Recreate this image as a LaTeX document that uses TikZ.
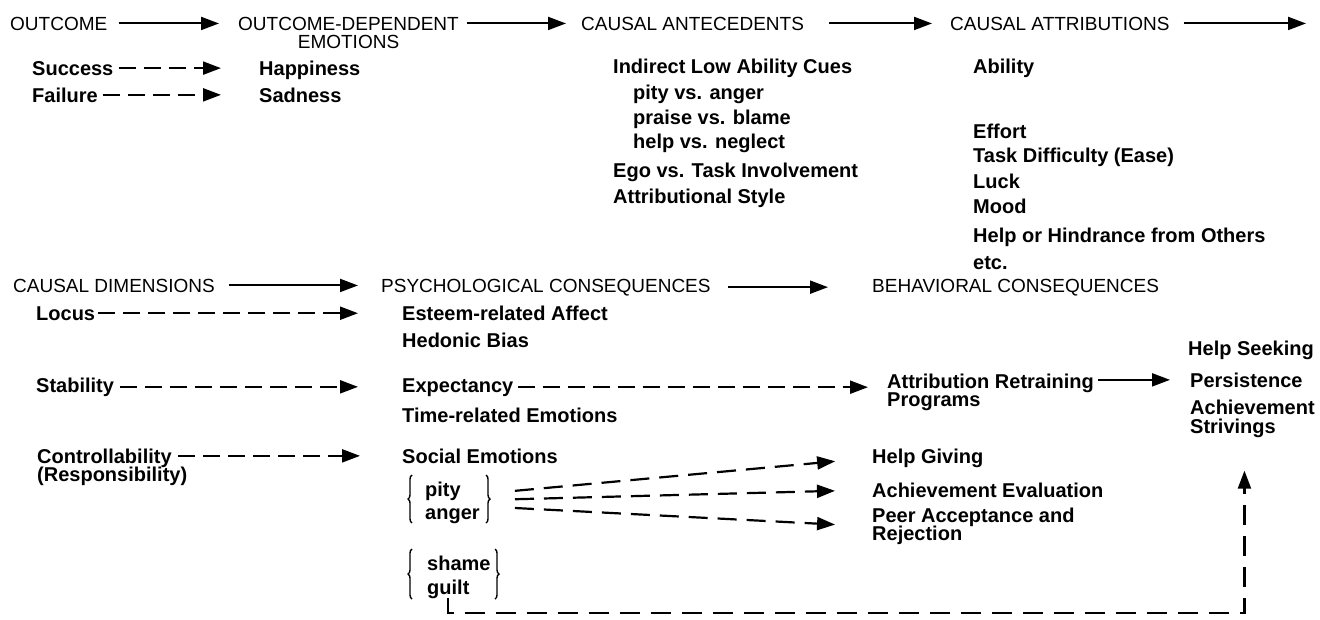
\documentclass[tikz,border=0pt]{standalone}
\usepackage{fontspec}
\setmainfont{Liberation Sans}
\usetikzlibrary{arrows.meta,decorations.pathreplacing}
\newcommand\tightlead{\lineskiplimit=-30pt\relax}
\begin{document}
\begin{tikzpicture}[x=1pt,y=-1pt,
  hd/.style={anchor=base west,inner sep=0pt,font=\fontsize{19}{23}\selectfont},
  itm/.style={anchor=base west,inner sep=0pt,font=\bfseries\fontsize{20}{23}\selectfont},
  itmm/.style={anchor=north west,inner sep=0pt,align=left,
    font=\bfseries\fontsize{20}{18.5}\selectfont\tightlead},
  conn/.style={line width=2pt,-{Triangle[length=18pt,width=13pt]}},
  dconn/.style={conn,line width=2.2pt,dash pattern=on 17pt off 8pt},
  pconn/.style={conn,line width=2.2pt,dash pattern=on 19pt off 10pt},
  fconn/.style={conn,line width=2.2pt,dash pattern=on 20pt off 11pt},
  brc/.style={line width=1.4pt,decorate,decoration={brace,amplitude=4pt}},
]
\fill[white] (0,0) rectangle (1320,619);
\useasboundingbox (0,0) rectangle (1320,619);

% ---------- row 1 headings ----------
\node[hd] (outcome) at (10,30) {OUTCOME};
\node[hd] (oded) at (238,30) {OUTCOME-DEPENDENT};
\path (oded.base) ++(0,18) node[hd,anchor=base] (emo) {EMOTIONS};
\node[hd] (ante) at (581,30) {CAUSAL ANTECEDENTS};
\node[hd] (attr) at (950,30) {CAUSAL ATTRIBUTIONS};
\coordinate (attrend) at (1306,23);

\draw[conn,shorten <=11pt,shorten >=19pt] (outcome.east) -- (outcome.east -| oded.west);
\draw[conn,shorten <=8pt,shorten >=15pt] (oded.east) -- (oded.east -| ante.west);
\draw[conn,shorten <=25pt,shorten >=18pt] (ante.east) -- (ante.east -| attr.west);
\draw[conn,shorten <=14pt] (attr.east) -- (attr.east -| attrend);

% ---------- outcomes / emotions ----------
\node[itm] (succ) at (32,75) {Success};
\node[itm] (happy) at (259,75) {Happiness};
\node[itm] (fail) at (32,102) {Failure};
\node[itm] (sad) at (259,102) {Sadness};
\draw[dconn,shorten <=5pt,shorten >=38pt] (succ.east) -- (succ.east -| happy.west);
\draw[dconn,shorten <=5pt,shorten >=38pt] (fail.east) -- (fail.east -| sad.west);

% ---------- antecedents ----------
\node[itm] (ilac) at (613,73) {Indirect Low Ability Cues};
\node[itm] (pva) at (633,99) {pity vs. anger};
\node[itm] (pvb) at (633,124) {praise vs. blame};
\node[itm] (hvn) at (633,148) {help vs. neglect};
\node[itm] (ego) at (613,177) {Ego vs. Task Involvement};
\node[itm] (style) at (613,203) {Attributional Style};

% ---------- attributions ----------
\node[itm] (abil) at (973,73) {Ability};
\node[itm] (eff) at (973,138) {Effort};
\node[itm] (task) at (973,162) {Task Difficulty (Ease)};
\node[itm] (luck) at (973,188) {Luck};
\node[itm] (mood) at (973,213) {Mood};
\node[itm] (hind) at (973,242) {Help or Hindrance from Others};
\node[itm] (etc) at (973,269) {etc.};

% ---------- row 2 headings ----------
\node[hd] (dim) at (13,292) {CAUSAL DIMENSIONS};
\node[hd] (psy) at (381,292) {PSYCHOLOGICAL CONSEQUENCES};
\node[hd] (beh) at (872,292) {BEHAVIORAL CONSEQUENCES};
\draw[conn,shorten <=14pt,shorten >=23pt] (dim.east) -- (dim.east -| psy.west);
\draw[conn,shorten <=17pt,shorten >=44pt] (psy.east) -- (psy.east -| beh.west);

% ---------- dimensions ----------
\node[itm] (locus) at (36,320) {Locus};
\node[itm] (stab) at (36,392) {Stability};
\node[itmm] (ctrl) at (37,448.5) {Controllability\\(Responsibility)};

% ---------- psychological consequences ----------
\node[itm] (est) at (402,320) {Esteem-related Affect};
\node[itm] (hed) at (402,347) {Hedonic Bias};
\node[itm] (exp) at (402,392) {Expectancy};
\node[itm] (time) at (402,422) {Time-related Emotions};
\node[itm] (soc) at (402,463) {Social Emotions};
\node[itm] (pity) at (425,496) {pity};
\node[itm] (anger) at (425,519) {anger};
\node[itm] (shame) at (427,570) {shame};
\node[itm] (guilt) at (427,594) {guilt};
\draw[brc] (412,523) -- (412,475);
\draw[brc] (486,475) -- (486,523);
\draw[brc] (412,599) -- (412,549);
\draw[brc] (495,549) -- (495,599);
\coordinate (pamid) at (486,500);

\draw[dconn,shorten <=3pt,shorten >=44pt] (locus.east) -- (locus.east -| est.west);
\draw[dconn,shorten <=6pt,shorten >=44pt] (stab.east) -- (stab.east -| exp.west);
\draw[dconn,shorten <=141pt,shorten >=42pt] (soc.west -| ctrl.west) -- (soc.west);

% ---------- behavioural side ----------
\node[itmm] (atr) at (887,373.5) {Attribution Retraining\\Programs};
\node[itm] (hs) at (1188,355) {Help Seeking};
\node[itm] (pers) at (1190,387) {Persistence};
\node[itmm] (achv) at (1190,400) {Achievement\\Strivings};
\node[itm] (hg) at (872,463) {Help Giving};
\node[itm] (ae) at (872,497) {Achievement Evaluation};
\node[itmm] (pe) at (872,507.7) {Peer Acceptance and\\Rejection};

\draw[dconn,shorten <=4pt,shorten >=19pt] (exp.east) -- (exp.east -| atr.west);
\draw[conn,shorten <=4pt,shorten >=20pt] (pers.west -| atr.east) -- (pers.west);

\draw[pconn,shorten <=29pt,shorten >=37pt] ([yshift=6.5pt]pamid) -- (hg.west);
\draw[pconn,shorten <=29pt,shorten >=37pt] (pamid) -- (ae.west);
\draw[pconn,shorten <=29pt,shorten >=37pt] ([yshift=-6.5pt]pamid) -- (pe.west);

\coordinate (fb) at (0,613);
\draw[fconn,shorten >=33pt] (guilt.south) -- (guilt.south |- fb) -| ([xshift=-8pt]achv.south);
\end{tikzpicture}
\end{document}
